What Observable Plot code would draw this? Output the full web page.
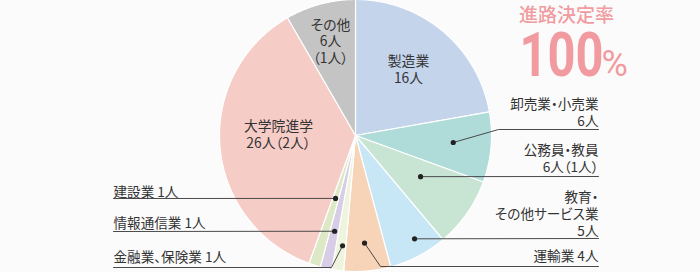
<!DOCTYPE html>
<html><head><meta charset="utf-8">
<script src="https://cdn.jsdelivr.net/npm/d3@7"></script>
<script src="https://cdn.jsdelivr.net/npm/@observablehq/plot@0.6"></script>
<style>
html,body{margin:0;padding:0;background:#fbfbfb;}
#chart svg{display:block;}
#chart text{font-feature-settings:"palt";}
</style>
</head><body><div id="chart"></div>
<script>
// ---- data ----
const categories = ["製造業","卸売業・小売業","公務員・教員","教育・その他サービス業","運輸業","金融業、保険業","情報通信業","建設業","大学院進学","その他"];
const displayNames = ["製造業","卸売業・小売業","公務員・教員","教育・\nその他サービス業","運輸業","金融業、保険業","情報通信業","建設業","大学院進学","その他"];
const counts = [16,6,6,5,4,1,1,1,26,6];
const inParens = [0,0,1,0,0,0,0,0,2,1];
const titleText = "進路決定率";
const rateValue = 100;
const rateUnit = "%";

// ---- style / layout ----
const colors = ["#c3d4eb","#afdcd9","#c8e4d3","#c7e7f6","#f7d3b8","#eef4de","#d8cde6","#dde9c6","#f6ccc7","#c4c4c4"];
const W = 700, H = 272, CX = 355, CY = 135, R = 136;
const insideIdx = [0, 9, 8];
const insideXY = {0:[408,68.5], 9:[330,40.5], 8:[278,134]};
const splitParens = {9: true};
const rightIdx = [1,2,3,4];
const rightXY = {1:[598,112], 2:[598,157.5], 3:[598,213.5], 4:[598,255]};
const leftIdx = [7,6,5];
const leftXY = {7:[113,191], 6:[113,222], 5:[113,256]};
const anchor = {1:[0.47,98], 2:[0.41,77], 3:[0.41,119], 4:[0.51,108], 5:[0.34,111], 6:[0.46,98], 7:[0.52,66]};
const elbows = {1:[[498,129],[598,129]], 2:[[598,176]], 3:[[598,238]], 4:[[380,266],[598,266]], 5:[[331,267],[113,267]], 6:[[113,231]], 7:[[113,198]]};

function labelText(i, oneLine) {
  const num = counts[i] + "人" + (inParens[i] ? (splitParens[i] ? "\n" : "") + "（" + inParens[i] + "人）" : "");
  return displayNames[i] + (oneLine ? " " : "\n") + num;
}

const pie = d3.pie().sort(null).value(d => d)(counts);
const slicePts = [];
pie.forEach((p, i) => {
  const n = Math.max(6, Math.ceil((p.endAngle - p.startAngle) / (Math.PI / 360)));
  slicePts.push({name: categories[i], x: CX, y: CY});
  for (let k = 0; k <= n; k++) {
    const a = p.startAngle + (p.endAngle - p.startAngle) * k / n;
    slicePts.push({name: categories[i], x: CX + R * Math.sin(a), y: CY - R * Math.cos(a)});
  }
  slicePts.push({name: categories[i], x: CX, y: CY});
});

const dots = [], leaders = [];
Object.keys(anchor).forEach(k => {
  const i = +k, p = pie[i], [t, r] = anchor[i];
  const a = p.startAngle + (p.endAngle - p.startAngle) * t;
  const d = {name: categories[i], x: CX + r * Math.sin(a), y: CY - r * Math.cos(a)};
  dots.push(d);
  leaders.push({name: d.name, x: d.x, y: d.y});
  elbows[i].forEach(([x, y]) => leaders.push({name: d.name, x, y}));
});

const mk = (idx, xy, oneLine) => idx.map(i => ({x: xy[i][0], y: xy[i][1], text: labelText(i, oneLine)}));
const insideLabels = mk(insideIdx, insideXY, false);
const rightLabels = rightIdx.map(i => ({x: rightXY[i][0], y: rightXY[i][1], text: labelText(i, i === 4)}));
const leftLabels = mk(leftIdx, leftXY, true);

const textColor = "#333";
const fs = 13.6;
const font = "'Noto Sans CJK JP', 'Noto Sans', sans-serif";

const chart = Plot.plot({
  width: W, height: H, margin: 0,
  x: {domain: [0, W], range: [0, W], axis: null},
  y: {domain: [0, H], range: [0, H], axis: null},
  color: {domain: categories, range: colors},
  style: {fontFamily: font, background: "#fbfbfb"},
  marks: [
    Plot.line(slicePts, {x: "x", y: "y", z: "name", fill: "name", stroke: "white", strokeWidth: 1.2, strokeLinejoin: "round"}),
    Plot.line(leaders, {x: "x", y: "y", z: "name", stroke: "#4a4a4a", strokeWidth: 1}),
    Plot.dot(dots, {x: "x", y: "y", r: 2.6, fill: "#222", stroke: "none"}),
    Plot.text(insideLabels, {x: "x", y: "y", text: "text", textAnchor: "middle", lineAnchor: "middle", lineHeight: 1.22, fontSize: 13.8, fill: textColor}),
    Plot.text(rightLabels, {x: "x", y: "y", text: "text", textAnchor: "end", lineAnchor: "middle", lineHeight: 1.25, fontSize: fs, fill: textColor}),
    Plot.text(leftLabels, {x: "x", y: "y", text: "text", textAnchor: "start", lineAnchor: "middle", lineHeight: 1.25, fontSize: fs, fill: textColor}),
    Plot.text([titleText], {x: () => 566, y: () => 15, text: d => d, textAnchor: "middle", fontSize: 19, fill: "#f09ca1", fontWeight: 500}),
    Plot.text([rateValue], {x: () => 519, y: () => 56, text: d => String(d), textAnchor: "start", fontSize: 62, fontWeight: 700, fontFamily: "Roboto, sans-serif", fill: "#f19ba0"}),
    Plot.text([rateUnit], {x: () => 601, y: () => 63.5, text: d => d, textAnchor: "start", fontSize: 36, fontWeight: 400, fontFamily: "Roboto, sans-serif", fill: "#f19ba0"})
  ]
});
d3.select(chart).selectAll("text").filter(function() { return this.textContent === String(rateValue); })
  .attr("textLength", 84).attr("lengthAdjust", "spacingAndGlyphs");
document.getElementById("chart").appendChild(chart);
</script>
</body></html>
